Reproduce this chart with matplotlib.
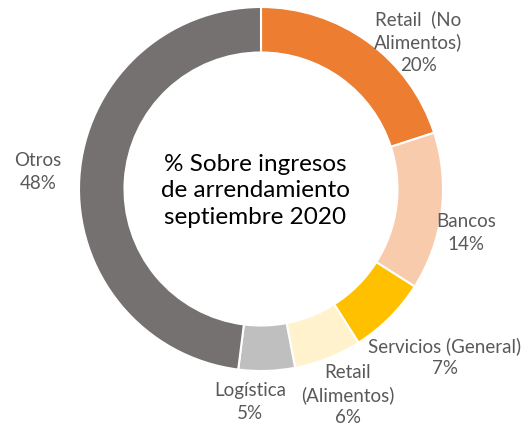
import matplotlib
matplotlib.use("Agg")
import matplotlib.pyplot as plt

categories = ["Retail  (No\nAlimentos)", "Bancos", "Servicios (General)",
              "Retail\n(Alimentos)", "Logística", "Otros"]
shares = [20, 14, 7, 6, 5, 48]
colors = ["#ED7D31", "#F8CBAD", "#FFC000", "#FFF2CC", "#BFBFBF", "#767171"]
center_text = "% Sobre ingresos\nde arrendamiento\nseptiembre 2020"

# label placement in data units (pie radius = 1)
label_pos = [(0.863, 0.808), (1.126, -0.242), (1.011, -0.923),
             (0.478, -1.132), (-0.060, -1.170), (-1.225, 0.093)]

W, H = 524, 436
cx, cy, r = 261, 247, 182
fig = plt.figure(figsize=(W / 100, H / 100), dpi=100)
ax = fig.add_axes([(cx - r) / W, (cy - r) / H, 2 * r / W, 2 * r / H])

ax.pie(shares, colors=colors, startangle=90, counterclock=False, radius=1,
       wedgeprops=dict(width=0.25, edgecolor="white", linewidth=1.5))
ax.set_xlim(-1, 1)
ax.set_ylim(-1, 1)
ax.set_aspect("equal")
ax.axis("off")

for cat, val, (x, y) in zip(categories, shares, label_pos):
    ax.text(x, y, f"{cat}\n{val}%", ha="center", va="center", fontsize=13.5,
            color="#595959", family="Lato", linespacing=1.38, clip_on=False)

ax.text(-0.03, -0.01, center_text, ha="center", va="center", fontsize=17.5,
        color="black", family="Lato", linespacing=1.33)

fig.savefig("out.png", dpi=100)
